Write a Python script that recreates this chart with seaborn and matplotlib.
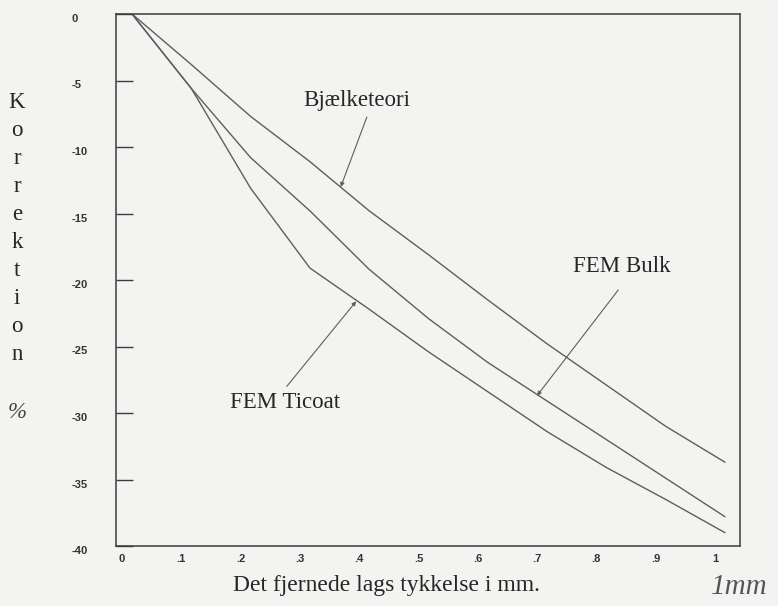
import numpy as np
import pandas as pd
import matplotlib
matplotlib.use("Agg")
import matplotlib.pyplot as plt
import seaborn as sns
from matplotlib.transforms import ScaledTranslation

# ---- data ----
thickness = [0.0, 0.1, 0.2, 0.3, 0.4, 0.5, 0.6, 0.7, 0.8, 0.9, 1.0]
bjaelketeori = [0.0, -3.8, -7.7, -11.1, -14.8, -18.1, -21.5, -24.8, -27.9, -31.0, -33.7]
fem_bulk = [0.0, -5.6, -10.8, -14.8, -19.2, -22.9, -26.2, -29.1, -32.0, -34.9, -37.8]
fem_ticoat = [0.0, -5.6, -13.1, -19.1, -22.2, -25.4, -28.4, -31.4, -34.1, -36.5, -39.0]
series_names = ["Bjælketeori", "FEM Bulk", "FEM Ticoat"]

x_ticks = [0.0, 0.1, 0.2, 0.3, 0.4, 0.5, 0.6, 0.7, 0.8, 0.9, 1.0]
x_tick_labels = ["0", ".1", ".2", ".3", ".4", ".5", ".6", ".7", ".8", ".9", "1"]
y_ticks = [0, -5, -10, -15, -20, -25, -30, -35, -40]
y_tick_labels = ["0", "-5", "-10", "-15", "-20", "-25", "-30", "-35", "-40"]

ylabel_letters = "Korrektion"
xlabel_text = "Det fjernede lags tykkelse i mm."

df = pd.DataFrame({
    "x": thickness * 3,
    "y": bjaelketeori + fem_bulk + fem_ticoat,
    "serie": [series_names[0]] * len(thickness)
             + [series_names[1]] * len(thickness)
             + [series_names[2]] * len(thickness),
})

# ---- styling ----
sns.set_style("white")
BG = "#f3f3f1"
LINE = "#5e5e5e"
INK = "#262626"
SERIF = ["Liberation Serif", "DejaVu Serif"]

fig = plt.figure(figsize=(7.78, 6.06), dpi=100, facecolor=BG)
ax = fig.add_axes([116 / 778, 1 - 546 / 606, 624 / 778, 532 / 606])
ax.set_facecolor(BG)

sns.lineplot(data=df, x="x", y="y", hue="serie", palette=[LINE] * 3,
             estimator=None, sort=False, legend=False, linewidth=1.0, ax=ax)

ax.set_xlim(-0.027, 1.0253)
ax.set_ylim(-40, 0)
ax.set_xlabel("")
ax.set_ylabel("")

for sp in ax.spines.values():
    sp.set_visible(True)
    sp.set_color("#3c3c3c")
    sp.set_linewidth(1.1)

ax.set_xticks(x_ticks)
ax.set_xticklabels(x_tick_labels, fontfamily="Liberation Sans", fontsize=8,
                   fontweight="bold", color="#333333")
ax.set_yticks(y_ticks)
ax.set_yticklabels(y_tick_labels, fontfamily="Liberation Sans", fontsize=8,
                   fontweight="bold", color="#333333")

ax.tick_params(axis="x", length=0, pad=6)
ax.tick_params(axis="y", direction="in", length=12, width=1.0, color="#3c3c3c",
               pad=32, left=True)
for lab in ax.get_yticklabels():
    lab.set_horizontalalignment("left")
    lab.set_verticalalignment("top")
shift = ScaledTranslation(-10 / 100, 0, fig.dpi_scale_trans)
for lab in ax.get_xticklabels():
    lab.set_transform(lab.get_transform() + shift)

# ---- annotations ----
arrow_kw = dict(arrowstyle="-|>", color=LINE, lw=0.8, mutation_scale=6,
                shrinkA=0, shrinkB=0)

ax.text(0.379, -6.5, series_names[0], fontfamily=SERIF, fontsize=16.5,
        color=INK, ha="center", va="center")
ax.annotate("", xy=(0.352, -13.0), xytext=(0.396, -7.75), arrowprops=arrow_kw)

ax.text(0.826, -19.0, series_names[1], fontfamily=SERIF, fontsize=16.5,
        color=INK, ha="center", va="center")
ax.annotate("", xy=(0.683, -28.7), xytext=(0.820, -20.75), arrowprops=arrow_kw)

ax.text(0.258, -29.2, series_names[2], fontfamily=SERIF, fontsize=16.5,
        color=INK, ha="center", va="center")
ax.annotate("", xy=(0.378, -21.6), xytext=(0.261, -28.0), arrowprops=arrow_kw)

# ---- stacked vertical y label ----
for i, ch in enumerate(ylabel_letters):
    fig.text(17 / 778, 1 - (108 + 28 * i) / 606, ch, fontfamily=SERIF,
             fontsize=16.5, color=INK, ha="center", va="baseline")
fig.text(17 / 778, 1 - 418 / 606, "%", fontfamily=SERIF, fontsize=16.5,
         style="italic", color="#444444", ha="center", va="baseline")

# ---- x label and handwritten note ----
fig.text(386 / 778, 1 - 585 / 606, xlabel_text, fontfamily=SERIF, fontsize=17,
         color=INK, ha="center", va="center")
fig.text(739 / 778, 1 - 587 / 606, "1mm", fontfamily=SERIF, fontsize=21,
         style="italic", color="#555555", ha="center", va="center")

fig.savefig("out.png", dpi=100, facecolor=BG)
